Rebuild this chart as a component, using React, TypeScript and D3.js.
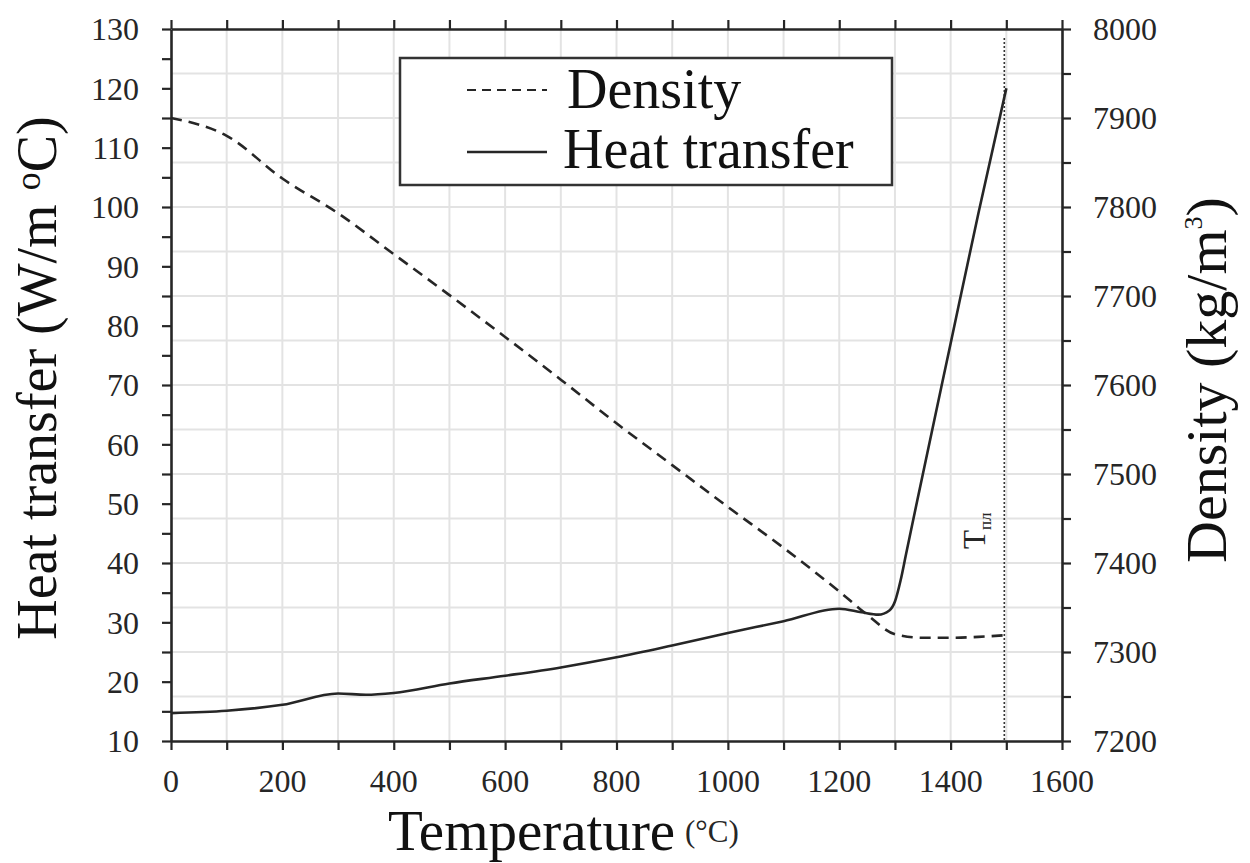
import React, { useRef, useEffect } from "react";
import * as d3 from "d3";

const densityTemps = [0, 100, 200, 300, 400, 500, 600, 700, 800, 900, 1000, 1100, 1200, 1250, 1300, 1350, 1400, 1450, 1500];
// density (kg/m3)
const density = [7900, 7880, 7832, 7793, 7747, 7701, 7654, 7606, 7557, 7510, 7463, 7417, 7368, 7342, 7320, 7316, 7316, 7317, 7319];

const heatTemps = [0, 100, 200, 300, 350, 400, 500, 600, 700, 800, 900, 1000, 1100, 1200, 1240, 1270, 1290, 1300, 1310, 1320, 1340, 1400, 1450, 1500];
// heat transfer (W/m °C)
const heat = [14.7, 15.1, 16.1, 18.0, 17.8, 18.1, 19.7, 21.0, 22.4, 24.1, 26.1, 28.2, 30.2, 32.3, 31.7, 31.3, 32.0, 33.5, 37, 41.5, 50.5, 77, 99, 120];

const tempTicks = [0, 200, 400, 600, 800, 1000, 1200, 1400, 1600];
const tempMinorTicks = d3.range(0, 1601, 100);
const heatTicks = [10, 20, 30, 40, 50, 60, 70, 80, 90, 100, 110, 120, 130];
const heatMinorTicks = d3.range(10, 131, 5);
const densityTicks = [7200, 7300, 7400, 7500, 7600, 7700, 7800, 7900, 8000];
const densityMinorTicks = d3.range(7200, 8001, 50);
const meltTemp = 1500;

const FONT = "'Liberation Serif', 'Times New Roman', serif";
const INK = "#262626";

const App = () => {
  const svgRef = useRef<SVGSVGElement>(null);

  useEffect(() => {
    document.body.style.margin = "0";
    const svg = d3.select(svgRef.current);
    svg.selectAll("*").remove();

    const dims = { width: 1250, height: 863, left: 171, right: 1062, top: 29, bottom: 741 };

    const x = d3.scaleLinear().domain([0, 1600]).range([dims.left, dims.right]);
    const yHeat = d3.scaleLinear().domain([10, 130]).range([dims.bottom, dims.top]);
    const yDens = d3.scaleLinear().domain([7200, 8000]).range([dims.bottom, dims.top]);

    svg.append("rect").attr("width", dims.width).attr("height", dims.height).attr("fill", "#fff");

    //grid
    const grid = svg.append("g").attr("stroke", "#e3e3e3").attr("stroke-width", 2);
    grid
      .selectAll("line.v")
      .data(tempMinorTicks.filter((d) => d > 0 && d < 1600))
      .enter()
      .append("line")
      .attr("x1", (d) => x(d))
      .attr("x2", (d) => x(d))
      .attr("y1", dims.top)
      .attr("y2", dims.bottom);
    grid
      .selectAll("line.h")
      .data(densityMinorTicks.filter((d) => d > 7200 && d < 8000))
      .enter()
      .append("line")
      .attr("x1", dims.left)
      .attr("x2", dims.right)
      .attr("y1", (d) => yDens(d))
      .attr("y2", (d) => yDens(d));

    //melting line
    svg
      .append("line")
      .attr("x1", x(meltTemp) - 2)
      .attr("x2", x(meltTemp) - 2)
      .attr("y1", 38)
      .attr("y2", dims.bottom)
      .attr("stroke", "#333")
      .attr("stroke-width", 1.6)
      .attr("stroke-dasharray", "2,2");

    const tm = svg
      .append("text")
      .attr("transform", `translate(${x(meltTemp) - 21},549) rotate(-90)`)
      .attr("font-family", FONT)
      .attr("font-size", 31)
      .attr("fill", INK);
    tm.append("tspan").text("T");
    tm.append("tspan").attr("font-size", 17).attr("dy", 6).text("пл");

    //lines
    const densLine = d3
      .line<number>()
      .x((_, i) => x(densityTemps[i]))
      .y((d) => yDens(d))
      .curve(d3.curveMonotoneX);
    svg
      .append("path")
      .attr("d", densLine(density))
      .attr("fill", "none")
      .attr("stroke", INK)
      .attr("stroke-width", 2.6)
      .attr("stroke-dasharray", "11,7");

    const heatLine = d3
      .line<number>()
      .x((_, i) => x(heatTemps[i]))
      .y((d) => yHeat(d))
      .curve(d3.curveMonotoneX);
    svg
      .append("path")
      .attr("d", heatLine(heat))
      .attr("fill", "none")
      .attr("stroke", INK)
      .attr("stroke-width", 2.6);

    //axes frame
    const axisStyle = (g: any) => {
      g.select(".domain").attr("stroke", INK).attr("stroke-width", 2.6);
      g.selectAll(".tick line").attr("stroke", INK).attr("stroke-width", 2.2);
    };

    svg
      .append("g")
      .attr("transform", `translate(0,${dims.bottom})`)
      .call(d3.axisBottom(x).tickValues(tempMinorTicks).tickFormat(() => "").tickSize(9).tickSizeOuter(0))
      .call(axisStyle);
    svg
      .append("g")
      .attr("transform", `translate(0,${dims.top})`)
      .call(d3.axisTop(x).tickValues(tempMinorTicks).tickFormat(() => "").tickSize(9).tickSizeOuter(0))
      .call(axisStyle);
    svg
      .append("g")
      .attr("transform", `translate(${dims.left},0)`)
      .call(d3.axisLeft(yHeat).tickValues(heatMinorTicks).tickFormat(() => "").tickSize(9).tickSizeOuter(0))
      .call(axisStyle);
    svg
      .append("g")
      .attr("transform", `translate(${dims.right},0)`)
      .call(d3.axisRight(yDens).tickValues(densityMinorTicks).tickFormat(() => "").tickSize(9).tickSizeOuter(0))
      .call(axisStyle);

    //tick labels
    const labels = svg.append("g").attr("font-family", FONT).attr("font-size", 32).attr("fill", INK);
    labels
      .selectAll("text.x")
      .data(tempTicks)
      .enter()
      .append("text")
      .attr("x", (d) => x(d))
      .attr("y", 792)
      .attr("text-anchor", "middle")
      .text((d) => d);
    labels
      .selectAll("text.yl")
      .data(heatTicks)
      .enter()
      .append("text")
      .attr("x", 139)
      .attr("y", (d) => yHeat(d))
      .attr("dy", "0.35em")
      .attr("text-anchor", "end")
      .text((d) => d);
    labels
      .selectAll("text.yr")
      .data(densityTicks)
      .enter()
      .append("text")
      .attr("x", 1093)
      .attr("y", (d) => yDens(d))
      .attr("dy", "0.35em")
      .attr("text-anchor", "start")
      .text((d) => d);

    //axis titles
    svg
      .append("text")
      .attr("x", 388)
      .attr("y", 850)
      .attr("font-family", FONT)
      .attr("font-size", 57)
      .attr("fill", "#111")
      .text("Temperature");
    svg
      .append("text")
      .attr("x", 685)
      .attr("y", 842)
      .attr("font-family", FONT)
      .attr("font-size", 31)
      .attr("fill", INK)
      .text("(°C)");

    const leftTitle = svg
      .append("text")
      .attr("transform", "translate(56,378) rotate(-90)")
      .attr("text-anchor", "middle")
      .attr("font-family", FONT)
      .attr("font-size", 56)
      .attr("fill", "#111");
    leftTitle.append("tspan").text("Heat transfer (W/m ");
    leftTitle.append("tspan").attr("font-size", 36).attr("dy", -16).text("o");
    leftTitle.append("tspan").attr("dy", 16).text("C)");

    const rightTitle = svg
      .append("text")
      .attr("transform", "translate(1226,380) rotate(-90)")
      .attr("text-anchor", "middle")
      .attr("font-family", FONT)
      .attr("font-size", 58)
      .attr("fill", "#111");
    rightTitle.append("tspan").text("Density (kg/m");
    rightTitle.append("tspan").attr("font-size", 26).attr("dy", -24).text("3");
    rightTitle.append("tspan").attr("dy", 24).text(")");

    //legend
    const legend = svg.append("g");
    legend
      .append("rect")
      .attr("x", 400)
      .attr("y", 58)
      .attr("width", 492)
      .attr("height", 127)
      .attr("fill", "#fff")
      .attr("stroke", "#333")
      .attr("stroke-width", 2.5);
    legend
      .append("line")
      .attr("x1", 467)
      .attr("x2", 547)
      .attr("y1", 90)
      .attr("y2", 90)
      .attr("stroke", INK)
      .attr("stroke-width", 2)
      .attr("stroke-dasharray", "9,6");
    legend
      .append("line")
      .attr("x1", 467)
      .attr("x2", 547)
      .attr("y1", 152)
      .attr("y2", 152)
      .attr("stroke", INK)
      .attr("stroke-width", 2.6);
    legend
      .append("text")
      .attr("x", 567)
      .attr("y", 108)
      .attr("font-family", FONT)
      .attr("font-size", 56)
      .attr("fill", "#111")
      .text("Density");
    legend
      .append("text")
      .attr("x", 563)
      .attr("y", 168)
      .attr("font-family", FONT)
      .attr("font-size", 56)
      .attr("fill", "#111")
      .text("Heat transfer");
  }, []);

  return (
    <div>
      <svg ref={svgRef} width={1250} height={863} style={{ display: "block" }}></svg>
    </div>
  );
};

export default App;
